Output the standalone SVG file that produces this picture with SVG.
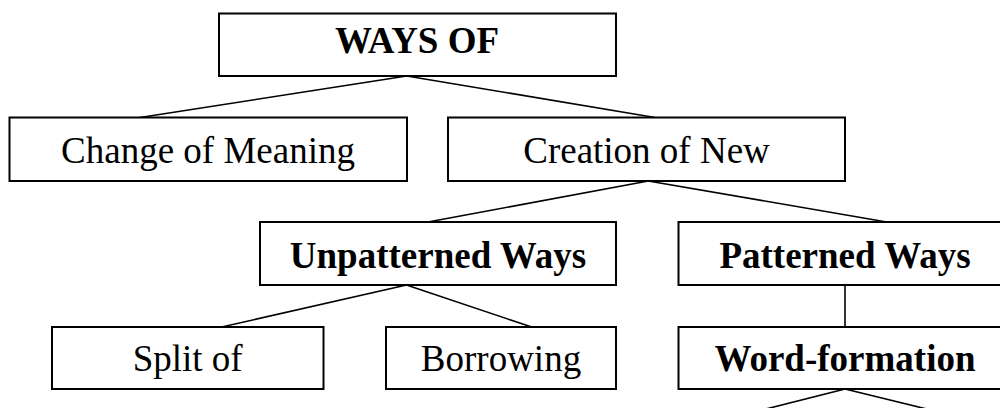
<svg xmlns="http://www.w3.org/2000/svg" width="1000" height="408" viewBox="0 0 1000 408">
  <style>
    .box { fill: #ffffff; stroke: #000000; stroke-width: 2; }
    .lbl { font-family: "Liberation Serif", "Times New Roman", serif; font-size: 37px; fill: #000000; text-anchor: middle; }
    .b { font-weight: bold; }
    .conn line { stroke: #000000; stroke-width: 1.6; fill: none; }
  </style>
  <rect width="1000" height="408" fill="#ffffff"/>
  <g id="connectors" class="conn">
    <line x1="406.7" y1="76" x2="140" y2="117.5"/>
    <line x1="406.7" y1="76" x2="655" y2="117.5"/>
    <line x1="648.3" y1="181" x2="428" y2="222"/>
    <line x1="648.3" y1="181" x2="886.7" y2="222"/>
    <line x1="406.5" y1="285" x2="221.7" y2="327"/>
    <line x1="406.5" y1="285" x2="531.7" y2="327"/>
    <line x1="845" y1="285" x2="845" y2="327"/>
    <line x1="845" y1="389" x2="754" y2="412"/>
    <line x1="845" y1="389" x2="939" y2="412"/>
  </g>
  <g id="node-ways">
    <rect class="box" x="219" y="13.5" width="397" height="62.5"/>
    <text class="lbl b" x="417" y="53.3" font-size="31.5">WAYS OF</text>
  </g>
  <g id="node-change">
    <rect class="box" x="9.5" y="117.5" width="397.5" height="63.5"/>
    <text class="lbl" x="208" y="163.3">Change of Meaning</text>
  </g>
  <g id="node-creation">
    <rect class="box" x="448" y="117.5" width="397" height="63.5"/>
    <text class="lbl" x="646.5" y="163">Creation of New</text>
  </g>
  <g id="node-unpatterned">
    <rect class="box" x="260" y="222" width="356" height="63"/>
    <text class="lbl b" x="438" y="268.3">Unpatterned Ways</text>
  </g>
  <g id="node-patterned">
    <rect class="box" x="678.5" y="222" width="335" height="63"/>
    <text class="lbl b" x="845" y="268.3">Patterned Ways</text>
  </g>
  <g id="node-split">
    <rect class="box" x="52" y="327" width="271.5" height="62"/>
    <text class="lbl" x="187.7" y="371">Split of</text>
  </g>
  <g id="node-borrowing">
    <rect class="box" x="386" y="327" width="230" height="62"/>
    <text class="lbl" x="501" y="370.5">Borrowing</text>
  </g>
  <g id="node-wordformation">
    <rect class="box" x="678.5" y="327" width="335" height="62"/>
    <text class="lbl b" x="845" y="370.5">Word-formation</text>
  </g>
</svg>
